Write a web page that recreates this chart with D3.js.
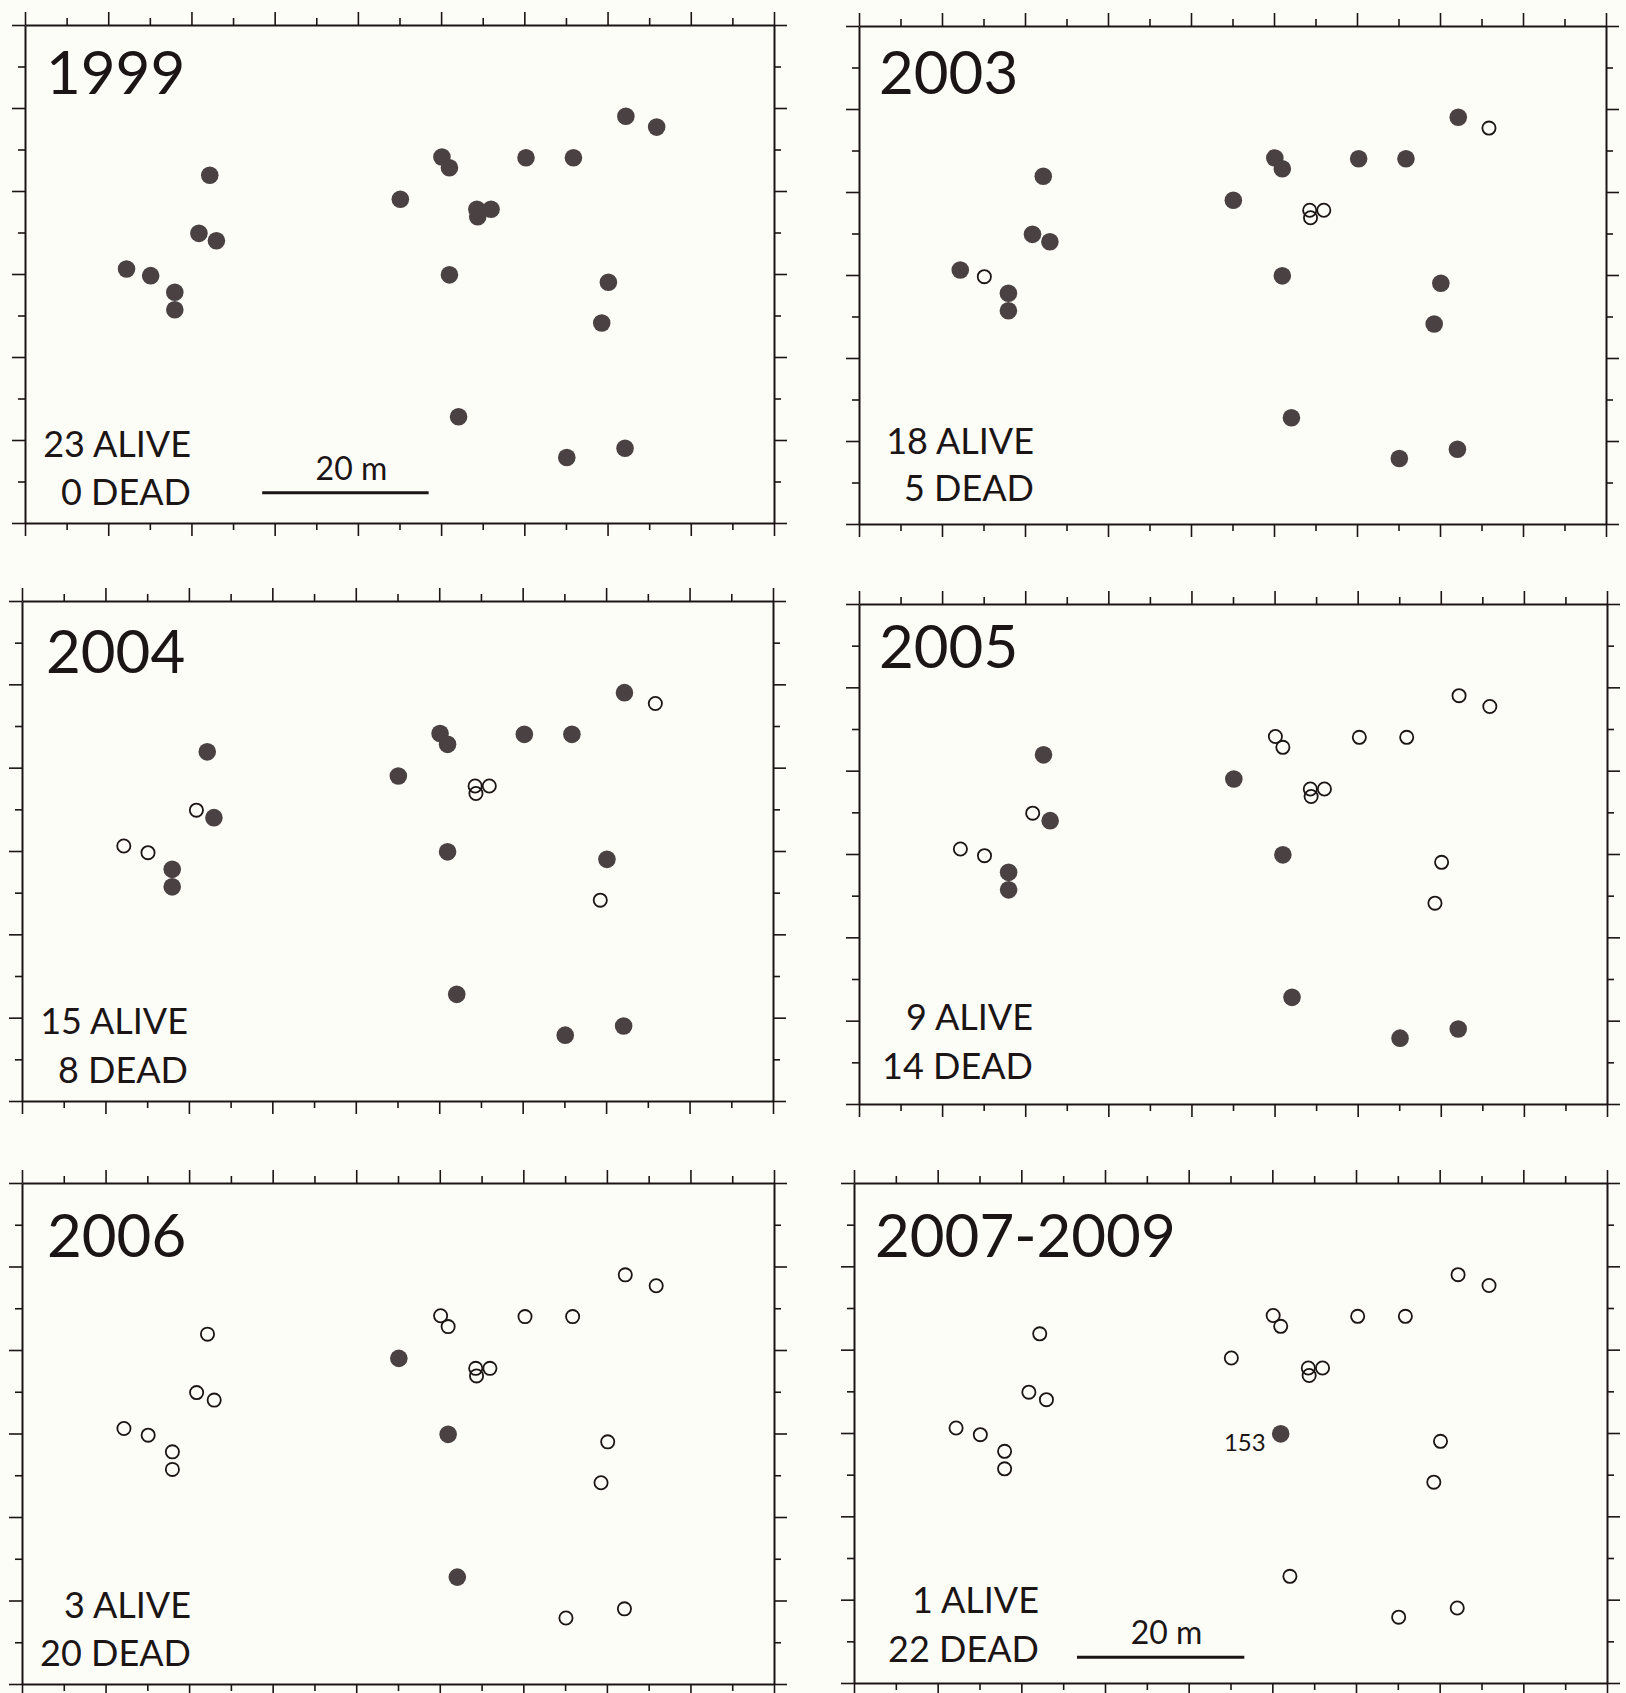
<!DOCTYPE html>
<html>
<head>
<meta charset="utf-8">
<script src="https://cdn.jsdelivr.net/npm/d3@7"></script>
<style>
  html, body { margin: 0; padding: 0; background: #fdfdf8; }
  svg { display: block; }
  text { font-family: Lato, "Open Sans", sans-serif; fill: #1c1515; }
</style>
</head>
<body>
<div id="chart"></div>
<script>
// tree positions in metres (plot is 90 m x 60 m, y measured from bottom)
var treeX = [22.2, 20.9, 23.0, 12.2, 15.1, 18.0, 18.0, 45.1, 50.1, 51.0, 60.2, 65.9,
             72.2, 75.9, 54.3, 54.4, 56.0, 51.0, 70.1, 69.3, 52.1, 65.1, 72.1];
var treeY = [41.9, 34.9, 34.0, 30.6, 29.8, 27.8, 25.7, 39.0, 44.1, 42.8, 44.0, 44.0,
             49.0, 47.7, 37.8, 36.9, 37.8, 29.9, 29.0, 24.1, 12.8, 7.9, 9.0];

var years = ["1999", "2003", "2004", "2005", "2006", "2007-2009"];

// 1 = alive, 0 = dead, one entry per tree
var alive1999 = [1,1,1,1,1,1,1,1,1,1,1,1,1,1,1,1,1,1,1,1,1,1,1];
var alive2003 = [1,1,1,1,0,1,1,1,1,1,1,1,1,0,0,0,0,1,1,1,1,1,1];
var alive2004 = [1,0,1,0,0,1,1,1,1,1,1,1,1,0,0,0,0,1,1,0,1,1,1];
var alive2005 = [1,0,1,0,0,1,1,1,0,0,0,0,0,0,0,0,0,1,0,0,1,1,1];
var alive2006 = [0,0,0,0,0,0,0,1,0,0,0,0,0,0,0,0,0,1,0,0,1,0,0];
var alive2007 = [0,0,0,0,0,0,0,0,0,0,0,0,0,0,0,0,0,1,0,0,0,0,0];
var statusByYear = [alive1999, alive2003, alive2004, alive2005, alive2006, alive2007];

var tagTree = 17;      // index of the labelled survivor
var tagText = "153";

var xTicks = d3.range(0, 91, 5);
var yTicks = d3.range(0, 61, 5);

// panel frames on the page
var panels = [
  {x: 25,  y: 25,   w: 749, h: 498, yearX: 46,  yearY: 94,   cntX: 191,  aliveY: 457,  deadY: 505,  bar: [28.5, 3.65]},
  {x: 859, y: 26,   w: 747, h: 498, yearX: 879, yearY: 94,   cntX: 1034, aliveY: 454,  deadY: 501},
  {x: 22,  y: 601,  w: 751, h: 500, yearX: 46,  yearY: 673,  cntX: 188,  aliveY: 1034, deadY: 1083},
  {x: 859, y: 604,  w: 748, h: 500, yearX: 879, yearY: 668,  cntX: 1033, aliveY: 1030, deadY: 1079},
  {x: 22,  y: 1183, w: 752, h: 501, yearX: 47,  yearY: 1257, cntX: 191,  aliveY: 1618, deadY: 1666},
  {x: 854, y: 1183, w: 753, h: 500, yearX: 875, yearY: 1257, cntX: 1039, aliveY: 1613, deadY: 1662, bar: [26.65, 3.1], tag: true}
];

var svg = d3.select("#chart").append("svg")
    .attr("width", 1626)
    .attr("height", 1693);

svg.append("rect").attr("width", 1626).attr("height", 1693).attr("fill", "#fdfdf8");

panels.forEach(function(p, i) {
  var status = statusByYear[i];
  var x = d3.scaleLinear().domain([0, 90]).range([0, p.w]);
  var y = d3.scaleLinear().domain([0, 60]).range([p.h, 0]);

  var g = svg.append("g").attr("transform", "translate(" + p.x + "," + p.y + ")");

  function drawAxis(axisFn, scale, ticks, transform) {
    var major = ticks.filter(function(t) { return t % 10 === 0; });
    var minor = ticks.filter(function(t) { return t % 10 !== 0; });
    var a1 = g.append("g").attr("transform", transform)
      .call(axisFn(scale).tickValues(major).tickSize(13).tickSizeOuter(0).tickFormat(""));
    var a2 = g.append("g").attr("transform", transform)
      .call(axisFn(scale).tickValues(minor).tickSize(7).tickSizeOuter(0).tickFormat(""));
    a2.select(".domain").remove();
    [a1, a2].forEach(function(a) {
      a.selectAll(".tick line").attr("stroke", "#1c1515").attr("stroke-width", 1.6);
    });
    a1.select(".domain").attr("stroke", "#1c1515").attr("stroke-width", 2);
  }

  drawAxis(d3.axisTop, x, xTicks, "translate(0,0)");
  drawAxis(d3.axisBottom, x, xTicks, "translate(0," + p.h + ")");
  drawAxis(d3.axisLeft, y, yTicks, "translate(0,0)");
  drawAxis(d3.axisRight, y, yTicks, "translate(" + p.w + ",0)");

  // trees: dead ones first so filled dots sit on top
  var order = d3.range(treeX.length).sort(function(a, b) { return status[a] - status[b]; });
  g.selectAll("circle.tree")
    .data(order)
    .enter()
    .append("circle")
    .attr("class", "tree")
    .attr("cx", function(d) { return x(treeX[d]); })
    .attr("cy", function(d) { return y(treeY[d]); })
    .attr("r", function(d) { return status[d] ? 8.8 : 6.6; })
    .attr("fill", function(d) { return status[d] ? "#4a4242" : "none"; })
    .attr("stroke", function(d) { return status[d] ? "none" : "#1c1515"; })
    .attr("stroke-width", 1.8);

  if (p.tag) {
    g.append("text")
      .attr("x", x(treeX[tagTree]) - 15)
      .attr("y", y(treeY[tagTree]) + 17)
      .attr("text-anchor", "end")
      .attr("font-size", 24)
      .text(tagText);
  }

  var nAlive = d3.sum(status);
  var nDead = status.length - nAlive;

  svg.append("text")
    .attr("x", p.yearX).attr("y", p.yearY)
    .attr("font-size", 60)
    .text(years[i]);

  svg.append("text")
    .attr("x", p.cntX).attr("y", p.aliveY)
    .attr("text-anchor", "end")
    .attr("font-size", 36)
    .text(nAlive + " ALIVE");

  svg.append("text")
    .attr("x", p.cntX).attr("y", p.deadY)
    .attr("text-anchor", "end")
    .attr("font-size", 36)
    .text(nDead + " DEAD");

  if (p.bar) {
    var bx0 = x(p.bar[0]), bx1 = x(p.bar[0] + 20), by = y(p.bar[1]);
    g.append("line")
      .attr("x1", bx0).attr("x2", bx1)
      .attr("y1", by).attr("y2", by)
      .attr("stroke", "#1c1515").attr("stroke-width", 3);
    g.append("text")
      .attr("x", (bx0 + bx1) / 2 + 6)
      .attr("y", by - 13)
      .attr("text-anchor", "middle")
      .attr("font-size", 32)
      .text("20 m");
  }
});
</script>
</body>
</html>
